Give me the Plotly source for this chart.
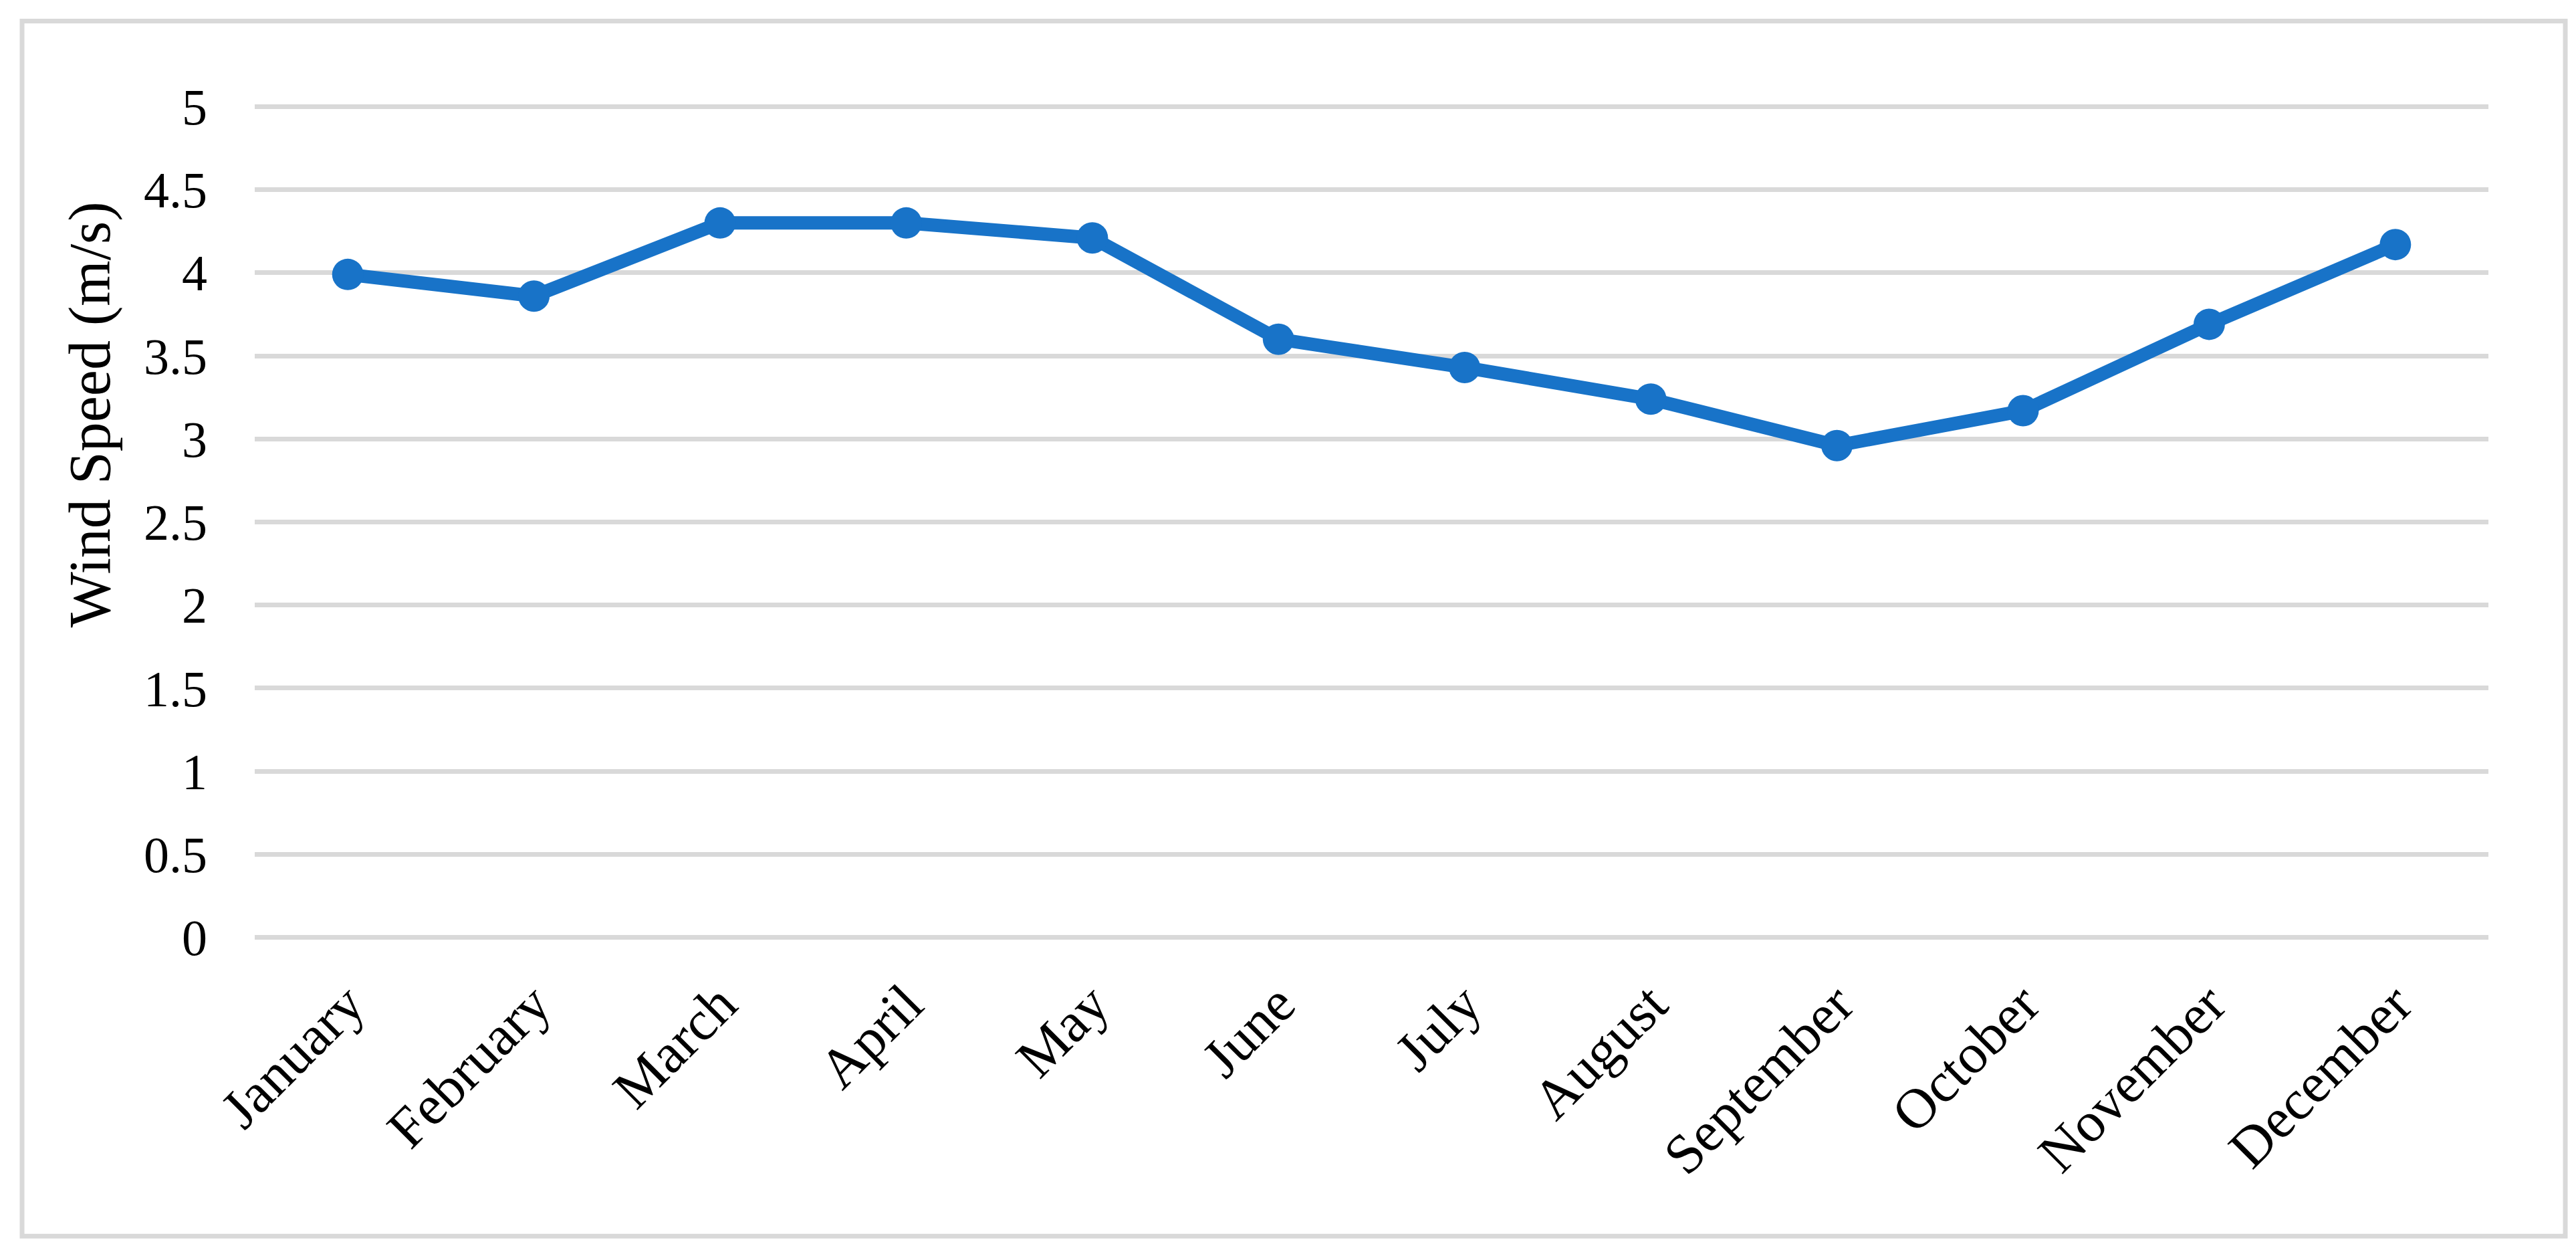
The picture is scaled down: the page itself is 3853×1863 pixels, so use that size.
import plotly.graph_objects as go

months = ["January", "February", "March", "April", "May", "June", "July",
          "August", "September", "October", "November", "December"]
wind_speed = [3.99, 3.86, 4.30, 4.30, 4.21, 3.60, 3.43, 3.24, 2.96, 3.17, 3.69, 4.17]
y_ticks = [0, 0.5, 1, 1.5, 2, 2.5, 3, 3.5, 4, 4.5, 5]
y_title = "Wind Speed (m/s)"

W, H = 3853, 1863
PAD = 0.01                      # tiny range padding so the 0 and 5 gridlines are drawn
y_top_px, y_bot_px = 151, 1394  # pixel rows of y=5 and y=0
unit = (y_bot_px - y_top_px) / 5
L, R = 373, 139
T = y_top_px - PAD * unit
B = H - (y_bot_px + PAD * unit)
pw, ph = W - L - R, H - T - B

def px_to_paper_x(px):
    return (px - L) / pw

def px_to_paper_y(py):
    return (H - B - py) / ph

FONT = "Palatino Linotype, Book Antiqua, Palatino, Liberation Serif, serif"
blue = "#1873c8"
grid = "#d9d9d9"

fig = go.Figure()
fig.add_trace(go.Scatter(
    x=months, y=wind_speed, mode="lines+markers",
    line=dict(color=blue, width=20),
    marker=dict(color=blue, size=47),
    showlegend=False, cliponaxis=False,
))

fig.update_layout(
    width=W, height=H,
    margin=dict(l=L, r=R, t=T, b=B, autoexpand=False),
    paper_bgcolor="white", plot_bgcolor="white",
    font=dict(family=FONT, color="black", size=76),
    xaxis=dict(
        type="category", range=[-0.5, len(months) - 0.5],
        showgrid=False, zeroline=False, showline=False,
        tickangle=-45, tickfont=dict(size=84, family=FONT),
        ticks="", ticklabelstandoff=30, automargin=False,
    ),
    yaxis=dict(
        range=[-PAD, 5 + PAD], tickvals=y_ticks, ticktext=[f"{v:g}" for v in y_ticks],
        showgrid=True, gridcolor=grid, gridwidth=7, zeroline=False,
        showline=False, ticks="", tickfont=dict(size=76, family=FONT),
        ticklabelstandoff=70, automargin=False,
    ),
    annotations=[dict(
        text=y_title, xref="paper", yref="paper",
        x=px_to_paper_x(126), y=px_to_paper_y(612),
        xanchor="center", yanchor="middle", textangle=-90,
        showarrow=False, font=dict(size=88, family=FONT, color="black"),
    )],
    shapes=[dict(
        type="rect", xref="paper", yref="paper",
        x0=px_to_paper_x(25), x1=px_to_paper_x(3829),
        y0=px_to_paper_y(1841), y1=px_to_paper_y(23),
        line=dict(color=grid, width=7), fillcolor="rgba(0,0,0,0)", layer="below",
    )],
)

fig.write_html("out.html")
